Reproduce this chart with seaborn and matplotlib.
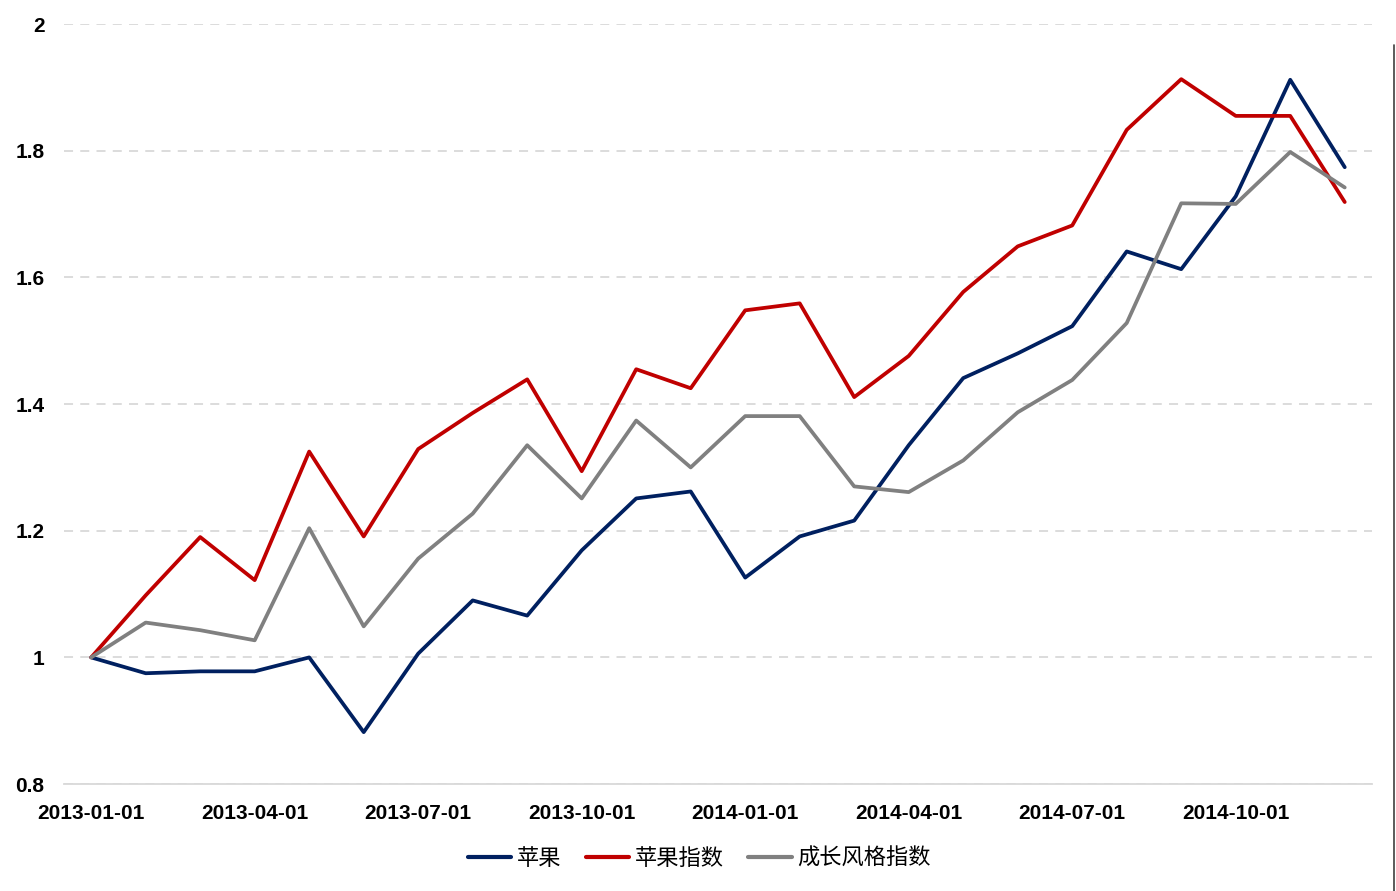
# Loading libraries
import pandas as pd
import matplotlib.pyplot as plt
import seaborn as sns

# Monthly dates
dates = pd.date_range("2013-01-01", periods=24, freq="MS").strftime("%Y-%m-%d").tolist()

# Values
apple = [1.000, 0.975, 0.978, 0.978, 1.000, 0.882, 1.006, 1.090, 1.066, 1.169, 1.251, 1.262,
         1.126, 1.191, 1.216, 1.335, 1.441, 1.480, 1.523, 1.641, 1.613, 1.728, 1.912, 1.774]
apple_index = [1.000, 1.098, 1.190, 1.122, 1.325, 1.191, 1.329, 1.386, 1.439, 1.294, 1.455, 1.425,
               1.548, 1.559, 1.411, 1.476, 1.577, 1.649, 1.682, 1.833, 1.913, 1.855, 1.855, 1.719]
growth_index = [1.000, 1.055, 1.043, 1.027, 1.204, 1.049, 1.156, 1.227, 1.335, 1.251, 1.374, 1.300,
                1.381, 1.381, 1.270, 1.261, 1.311, 1.387, 1.438, 1.528, 1.717, 1.716, 1.798, 1.742]

series_names = ["苹果", "苹果指数", "成长风格指数"]
colors = ["#002060", "#C00000", "#808080"]

# Build long-form table
df = pd.DataFrame({
    "pos": list(range(len(dates))) * 3,
    "value": apple + apple_index + growth_index,
    "series": [s for s in series_names for _ in dates],
})

sns.set_style("white")
plt.rcParams["font.family"] = ["Noto Sans CJK SC", "DejaVu Sans"]

fig = plt.figure(figsize=(13.96, 8.91), dpi=100)
ax = fig.add_axes([0.0458, 0.12, 0.937, 0.853])

sns.lineplot(
    data=df,
    x="pos",
    y="value",
    hue="series",
    hue_order=series_names,
    palette=colors,
    linewidth=2.7,
    ax=ax,
    legend=False
)

ax.set_xlim(-0.5, len(dates) - 0.5)
ax.set_ylim(0.8, 2.0)
ax.set_yticks([0.8, 1.0, 1.2, 1.4, 1.6, 1.8, 2.0])
ax.set_yticklabels(["0.8", "1", "1.2", "1.4", "1.6", "1.8", "2"])
ax.set_xticks(range(0, len(dates), 3))
ax.set_xticklabels(dates[::3])
ax.set_xticks([i - 0.5 for i in range(0, len(dates) + 1, 3)], minor=True)
ax.set_xlabel("")
ax.set_ylabel("")

for lab in ax.get_xticklabels() + ax.get_yticklabels():
    lab.set_fontfamily("Liberation Sans")
    lab.set_fontweight("bold")
    lab.set_fontsize(15)
    lab.set_color("black")

ax.tick_params(axis="x", which="major", length=0, pad=14)
ax.tick_params(axis="x", which="minor", length=7, color="#D9D9D9", width=1.2)
ax.tick_params(axis="y", length=0, pad=14)

ax.yaxis.grid(True, linestyle=(0, (5, 4)), color="#D9D9D9", linewidth=1.3)
ax.set_axisbelow(True)
for side in ["left", "right", "top"]:
    ax.spines[side].set_visible(False)
ax.spines["bottom"].set_color("#D9D9D9")
ax.spines["bottom"].set_linewidth(1.3)

# Legend
handles = [plt.Line2D([0], [0], color=c, linewidth=3) for c in colors]
leg = fig.legend(
    handles,
    series_names,
    loc="center",
    bbox_to_anchor=(0.501, 0.037),
    ncol=3,
    frameon=False,
    fontsize=16,
    handlelength=1.95,
    handletextpad=0.25,
    columnspacing=1.1
)
for t in leg.get_texts():
    t.set_color("black")

# Thin frame line on the right edge of the picture
fig.add_artist(plt.Line2D([0.9985, 0.9985], [0.0, 0.95], transform=fig.transFigure,
                          color="#404040", linewidth=1.2))

fig.savefig("out.png", dpi=100)
